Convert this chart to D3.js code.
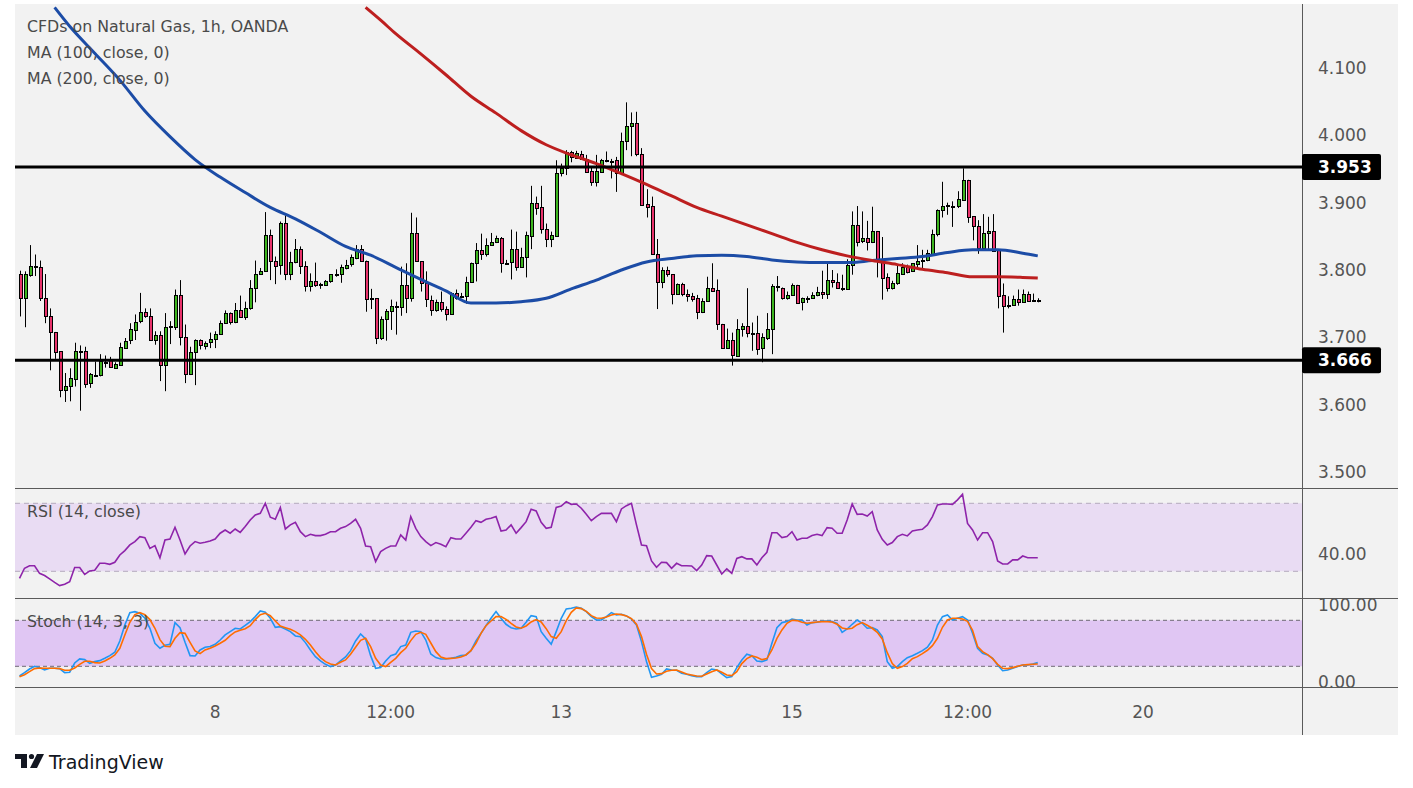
<!DOCTYPE html>
<html>
<head>
<meta charset="utf-8">
<script src="https://cdn.jsdelivr.net/npm/d3@7/dist/d3.min.js"></script>
<style>
body { margin: 0; background: #fff; }
text { font-family: "DejaVu Sans", sans-serif; }
</style>
</head>
<body>
<svg id="chart" width="1413" height="788"></svg>
<script>
// hourly candles
var opens = [3.794,3.759,3.793,3.804,3.804,3.758,3.732,3.708,3.679,3.621,3.627,3.639,3.680,3.680,3.631,3.643,3.644,3.663,3.666,3.655,
  3.660,3.685,3.695,3.711,3.723,3.737,3.732,3.696,3.703,3.659,3.716,3.716,3.763,3.700,3.645,3.678,3.696,3.688,3.692,3.697,
  3.705,3.721,3.736,3.723,3.741,3.730,3.743,3.773,3.794,3.799,3.852,3.814,3.807,3.870,3.794,3.812,3.831,3.806,3.777,3.784,
  3.778,3.778,3.784,3.793,3.794,3.804,3.808,3.818,3.831,3.814,3.758,3.758,3.699,3.727,3.739,3.747,3.745,3.777,3.758,3.855,
  3.813,3.780,3.756,3.741,3.753,3.742,3.735,3.766,3.761,3.761,3.782,3.810,3.830,3.824,3.837,3.841,3.847,3.811,3.811,3.831,
  3.805,3.819,3.851,3.900,3.893,3.861,3.846,3.851,3.944,3.951,3.975,3.967,3.973,3.965,3.947,3.931,3.946,3.962,3.962,3.964,
  3.945,3.992,4.014,4.019,3.973,3.898,3.895,3.824,3.782,3.800,3.794,3.764,3.779,3.764,3.762,3.758,3.737,3.753,3.774,3.771,
  3.720,3.684,3.696,3.673,3.712,3.717,3.707,3.707,3.683,3.700,3.712,3.775,3.773,3.758,3.763,3.778,3.752,3.758,3.758,3.763,
  3.767,3.764,3.785,3.782,3.773,3.773,3.808,3.867,3.842,3.847,3.841,3.858,3.814,3.789,3.772,3.780,3.795,3.805,3.798,3.810,
  3.814,3.814,3.825,3.854,3.889,3.895,3.895,3.895,3.905,3.934,3.880,3.866,3.833,3.855,3.858,3.830,3.763,3.748,3.748,3.757,
  3.753,3.765,3.756,3.756];
var highs = [3.799,3.798,3.837,3.823,3.814,3.794,3.743,3.708,3.679,3.647,3.654,3.692,3.688,3.686,3.647,3.664,3.675,3.673,3.671,3.663,
  3.692,3.699,3.721,3.734,3.766,3.743,3.743,3.709,3.709,3.736,3.724,3.771,3.785,3.719,3.686,3.697,3.697,3.694,3.707,3.709,
  3.725,3.740,3.737,3.751,3.762,3.753,3.785,3.814,3.803,3.886,3.860,3.820,3.872,3.881,3.827,3.846,3.835,3.813,3.795,3.811,
  3.781,3.785,3.794,3.801,3.808,3.815,3.823,3.837,3.837,3.814,3.772,3.758,3.731,3.742,3.756,3.753,3.805,3.810,3.885,3.878,
  3.813,3.798,3.762,3.756,3.768,3.746,3.767,3.771,3.766,3.790,3.811,3.840,3.854,3.847,3.855,3.851,3.849,3.815,3.860,3.857,
  3.833,3.857,3.925,3.909,3.925,3.869,3.857,3.963,3.958,3.978,3.977,3.977,3.977,3.971,3.954,3.971,3.965,3.976,3.965,3.968,
  4.004,4.049,4.034,4.035,3.981,3.920,3.909,3.846,3.804,3.805,3.794,3.780,3.781,3.771,3.766,3.763,3.758,3.790,3.810,3.786,
  3.720,3.713,3.707,3.727,3.721,3.773,3.722,3.732,3.706,3.736,3.779,3.791,3.774,3.768,3.780,3.778,3.759,3.761,3.767,3.775,
  3.799,3.810,3.800,3.795,3.793,3.816,3.887,3.895,3.887,3.873,3.894,3.858,3.849,3.795,3.784,3.808,3.810,3.808,3.810,3.837,
  3.830,3.830,3.860,3.890,3.931,3.900,3.902,3.917,3.951,3.934,3.880,3.874,3.883,3.879,3.883,3.831,3.780,3.761,3.762,3.771,
  3.771,3.768,3.765,3.758];
var lows = [3.731,3.715,3.790,3.791,3.754,3.721,3.651,3.668,3.611,3.604,3.605,3.627,3.591,3.625,3.625,3.643,3.642,3.655,3.655,3.653,
  3.659,3.683,3.690,3.696,3.721,3.729,3.696,3.689,3.635,3.620,3.690,3.711,3.688,3.632,3.644,3.629,3.682,3.682,3.684,3.684,
  3.704,3.720,3.719,3.721,3.730,3.726,3.741,3.752,3.793,3.798,3.785,3.779,3.793,3.785,3.785,3.810,3.794,3.768,3.768,3.775,
  3.772,3.777,3.781,3.790,3.781,3.801,3.805,3.816,3.812,3.738,3.742,3.690,3.696,3.695,3.711,3.704,3.732,3.736,3.753,3.813,
  3.768,3.745,3.732,3.738,3.738,3.725,3.734,3.756,3.758,3.750,3.781,3.783,3.815,3.820,3.836,3.840,3.796,3.808,3.786,3.799,
  3.804,3.789,3.831,3.882,3.854,3.834,3.834,3.851,3.939,3.941,3.960,3.966,3.964,3.945,3.925,3.924,3.945,3.960,3.936,3.916,
  3.941,3.978,3.969,3.969,3.897,3.878,3.824,3.742,3.773,3.790,3.749,3.763,3.761,3.753,3.753,3.727,3.736,3.753,3.769,3.711,
  3.683,3.683,3.658,3.673,3.701,3.700,3.680,3.674,3.663,3.696,3.675,3.768,3.756,3.756,3.762,3.751,3.740,3.751,3.757,3.761,
  3.757,3.757,3.774,3.772,3.769,3.773,3.793,3.835,3.840,3.829,3.840,3.789,3.756,3.768,3.771,3.778,3.794,3.795,3.797,3.800,
  3.800,3.813,3.823,3.850,3.878,3.882,3.864,3.892,3.904,3.870,3.844,3.824,3.830,3.830,3.829,3.743,3.707,3.743,3.747,3.747,
  3.752,3.755,3.753,3.752];
var closes = [3.759,3.794,3.806,3.806,3.758,3.732,3.708,3.678,3.621,3.627,3.639,3.680,3.679,3.631,3.645,3.644,3.665,3.664,3.656,3.661,
  3.686,3.695,3.712,3.723,3.737,3.731,3.696,3.703,3.659,3.716,3.717,3.763,3.700,3.645,3.678,3.696,3.688,3.692,3.697,3.705,
  3.722,3.736,3.723,3.741,3.730,3.743,3.773,3.794,3.799,3.852,3.813,3.807,3.870,3.794,3.812,3.831,3.806,3.777,3.784,3.778,
  3.779,3.784,3.794,3.794,3.804,3.808,3.819,3.831,3.813,3.758,3.757,3.699,3.727,3.739,3.747,3.745,3.777,3.758,3.855,3.813,
  3.780,3.756,3.741,3.753,3.742,3.735,3.766,3.759,3.760,3.782,3.810,3.830,3.824,3.837,3.841,3.847,3.810,3.810,3.831,3.805,
  3.820,3.852,3.900,3.893,3.860,3.846,3.852,3.944,3.951,3.975,3.967,3.974,3.965,3.946,3.931,3.947,3.964,3.963,3.962,3.945,
  3.992,4.014,4.019,3.973,3.897,3.894,3.824,3.782,3.800,3.794,3.764,3.779,3.764,3.761,3.758,3.737,3.754,3.773,3.770,3.720,
  3.684,3.696,3.673,3.713,3.717,3.706,3.706,3.683,3.700,3.713,3.776,3.776,3.758,3.763,3.778,3.752,3.758,3.758,3.763,3.767,
  3.764,3.785,3.782,3.773,3.773,3.808,3.867,3.842,3.847,3.841,3.858,3.814,3.789,3.772,3.780,3.795,3.805,3.798,3.810,3.814,
  3.815,3.825,3.854,3.889,3.895,3.896,3.895,3.905,3.934,3.879,3.865,3.833,3.855,3.858,3.829,3.762,3.747,3.748,3.757,3.753,
  3.765,3.755,3.756,3.755];

// moving averages, sampled at candle indices
var ma100Idx = [7,10,15,20,25,30,35,40,45,50,55,60,65,70,75,80,85,90,95,100,105,110,115,120,125,130,135,140,145,150,155,160,165,170,175,180,185,190,195,200,203];
var ma100Val = [4.190,4.162,4.122,4.082,4.036,3.998,3.964,3.938,3.915,3.893,3.876,3.856,3.835,3.822,3.804,3.786,3.769,3.751,3.751,3.753,3.758,3.772,3.785,3.800,3.812,3.817,3.821,3.822,3.820,3.815,3.812,3.811,3.811,3.814,3.817,3.820,3.826,3.830,3.830,3.825,3.821];
var ma200Idx = [69,72,75,80,85,90,95,100,105,110,115,120,125,130,135,140,145,150,155,160,165,170,175,180,185,190,195,200,203];
var ma200Val = [4.190,4.171,4.151,4.121,4.090,4.058,4.033,4.007,3.986,3.971,3.958,3.943,3.927,3.910,3.893,3.880,3.867,3.854,3.841,3.830,3.821,3.814,3.808,3.801,3.796,3.790,3.790,3.789,3.788];

var levels = [3.953, 3.666];

var rsi = [25.9,31.8,33.3,33.3,28.8,27.5,25.5,23.5,21.6,22.4,23.9,32.2,32.2,28.2,30.2,30.6,34.7,34.7,34.1,35.3,
  39.6,42.2,45.5,47.5,50.4,49.8,43.5,45.1,38.0,48.4,49.0,55.9,48.4,40.2,44.9,47.5,46.5,47.1,47.8,49.0,
  52.4,54.3,52.4,54.9,52.9,56.3,60.2,63.1,64.1,70.0,61.8,60.6,67.5,54.9,57.3,58.8,53.3,50.4,51.8,51.0,
  51.0,51.8,53.3,53.3,55.3,56.3,58.2,60.6,55.3,44.9,44.5,35.7,41.6,43.5,44.9,44.9,51.4,48.4,62.2,55.3,
  50.4,47.5,45.1,46.9,45.9,44.5,49.8,49.0,49.0,52.4,55.9,59.8,58.8,60.6,61.2,62.2,53.7,54.3,57.3,52.4,
  55.7,59.2,66.5,65.5,58.8,55.3,55.9,67.6,68.4,71.0,69.4,69.6,67.1,63.5,59.8,62.2,64.1,64.1,64.1,59.2,
  66.7,68.6,70.0,57.3,45.5,45.1,36.1,32.4,35.3,35.1,31.8,34.7,33.3,33.3,33.1,30.4,33.7,39.2,39.0,33.7,
  28.4,31.4,28.8,37.6,38.6,37.3,37.3,33.7,38.0,41.2,52.7,52.7,49.8,50.4,53.3,48.4,49.4,49.4,51.0,51.8,
  51.0,55.7,55.3,52.4,52.4,60.2,69.6,63.5,63.7,62.5,65.1,54.3,48.8,45.5,46.9,50.4,51.8,50.8,53.7,54.3,
  54.7,57.3,62.2,69.0,69.6,69.6,69.4,72.0,75.3,58.2,54.3,48.4,52.7,52.7,47.5,36.1,34.3,34.3,36.7,36.7,
  39.0,38.0,38.0,38.0];

var stochK = [7.4,11.7,16.5,20.0,18.3,15.2,17.4,17.4,17.0,11.7,12.2,24.3,29.6,28.7,23.9,26.1,27.4,30.4,33.9,38.3,
  53.0,73.9,90.0,91.3,89.1,82.6,69.6,50.0,43.5,47.4,48.7,77.0,70.4,51.3,33.9,33.5,41.3,44.8,45.7,48.7,
  54.3,60.9,65.2,69.6,68.7,73.5,78.3,84.8,92.2,90.4,82.6,70.9,71.7,68.7,65.2,59.6,58.7,50.9,41.3,32.6,
  27.0,22.6,19.6,21.7,27.0,32.2,40.4,53.0,62.2,55.7,33.9,17.4,18.3,27.0,33.9,36.1,45.7,47.8,64.3,66.1,
  65.2,54.3,36.1,31.3,29.6,29.6,30.4,31.7,33.9,34.8,40.4,53.0,63.0,73.0,82.6,91.3,82.6,74.8,70.4,68.7,
  69.6,77.4,86.1,84.8,65.2,56.5,48.7,65.2,82.6,94.8,95.7,97.4,95.7,91.3,84.8,80.4,80.4,84.8,90.0,87.0,
  87.8,85.7,81.7,73.9,52.2,26.1,5.7,7.4,9.6,16.5,15.2,14.8,10.9,9.6,7.8,6.5,6.5,11.7,16.5,15.2,
  10.0,5.2,6.5,18.3,28.3,35.7,33.9,27.0,26.1,28.3,50.0,70.4,77.0,78.3,81.7,80.4,80.4,73.9,77.0,77.4,
  79.1,79.1,78.3,76.1,64.3,68.7,74.8,80.4,76.1,69.6,70.4,67.4,58.7,26.1,17.4,19.6,26.1,31.3,33.9,37.0,
  40.4,44.8,54.3,73.9,84.8,87.0,80.4,82.6,84.8,80.4,63.0,43.5,37.0,34.8,30.4,21.7,14.3,15.2,17.4,19.6,
  21.7,21.7,23.0,24.8];
var stochD = [6.5,9.1,13.0,17.0,17.8,17.4,17.4,17.4,17.0,14.8,14.8,17.8,22.6,26.5,26.5,24.8,24.3,27.0,30.4,34.8,
  43.5,60.9,77.4,87.4,90.0,87.4,80.9,69.6,54.8,46.1,45.7,56.5,63.9,63.0,51.3,40.0,36.5,41.3,43.5,46.5,
  50.0,53.9,60.0,64.8,67.0,69.1,73.0,80.9,87.4,89.1,86.1,79.1,72.6,70.4,68.3,65.2,60.9,55.2,47.8,39.1,
  31.3,26.1,23.0,21.7,25.2,28.3,35.7,44.8,53.9,56.5,45.7,30.4,21.7,19.6,25.2,30.4,37.8,43.5,53.5,61.7,
  64.3,61.7,50.4,39.1,32.2,30.0,30.4,30.9,32.2,34.8,40.4,50.0,63.0,73.0,79.1,84.8,84.8,81.3,76.1,71.3,
  69.6,72.6,77.8,80.9,77.8,69.1,58.7,56.5,65.2,79.6,90.4,96.1,95.2,91.7,86.1,83.0,82.6,84.3,87.0,88.3,
  87.4,85.7,82.2,74.8,58.7,35.7,17.0,10.0,10.4,13.5,14.8,15.2,12.6,10.0,8.7,7.4,7.0,10.0,13.0,15.2,
  12.2,8.7,7.8,13.0,23.5,30.0,33.5,31.7,28.7,30.0,41.3,56.5,67.4,76.1,80.0,79.6,77.4,76.1,77.0,77.8,
  78.3,78.3,77.8,74.8,70.0,68.7,69.6,74.3,77.0,73.5,69.6,64.3,55.7,37.8,23.5,17.4,19.6,23.9,30.0,32.6,
  36.5,40.9,47.0,56.5,70.9,80.4,82.6,82.6,81.7,78.7,67.0,45.7,39.1,35.2,30.0,22.6,17.4,17.0,18.3,20.0,
  21.7,22.2,22.6,23.0];

var priceTicks = [3.5, 3.6, 3.7, 3.8, 3.9, 4.0, 4.1];
var timeTickIdx = [39, 74, 108, 154, 189, 224];
var timeTickLabels = ["8", "12:00", "13", "15", "12:00", "20"];

var legendLines = ["CFDs on Natural Gas, 1h, OANDA", "MA (100, close, 0)", "MA (200, close, 0)"];

// layout
var leftX = 15, rightX = 1398, axisX = 1302, topY = 4, bottomY = 735;
var mainBottom = 488, rsiBottom = 598, stochBottom = 687;
var upColor = "#3db51f", downColor = "#e8336b";

var svg = d3.select("#chart");

var x = d3.scaleLinear().domain([0, 224]).range([19.5, 1143.1]);
var y = d3.scaleLinear().domain([3.5, 4.1]).range([472, 68]);
var yRsi = d3.scaleLinear().domain([30, 70]).range([571.3, 503.3]);
var yStoch = d3.scaleLinear().domain([20, 80]).range([666.3, 620.3]);

svg.append("rect").attr("x", leftX).attr("y", topY)
    .attr("width", rightX - leftX).attr("height", bottomY - topY)
    .attr("fill", "#f2f2f2");

var defs = svg.append("defs");
function clip(id, y0, y1) {
    defs.append("clipPath").attr("id", id).append("rect")
        .attr("x", leftX).attr("y", y0).attr("width", axisX - leftX).attr("height", y1 - y0);
}
clip("clipMain", topY, mainBottom);
clip("clipRsi", mainBottom, rsiBottom);
clip("clipStoch", rsiBottom, stochBottom);

// ---- main pane
var main = svg.append("g").attr("clip-path", "url(#clipMain)");

var candles = main.selectAll("g.candle")
    .data(d3.range(closes.length))
    .enter()
    .append("g")
    .attr("class", "candle");

candles.append("line")
    .attr("x1", function(i){ return Math.round(x(i)) + 0.5; })
    .attr("x2", function(i){ return Math.round(x(i)) + 0.5; })
    .attr("y1", function(i){ return y(highs[i]); })
    .attr("y2", function(i){ return y(lows[i]); })
    .attr("stroke", "#000").attr("stroke-width", 1);

candles.append("rect")
    .attr("x", function(i){ return Math.round(x(i)) - 1; })
    .attr("width", 3)
    .attr("y", function(i){ return Math.round(y(Math.max(opens[i], closes[i]))) + 0.5; })
    .attr("height", function(i){ return Math.max(1, Math.round(Math.abs(y(opens[i]) - y(closes[i])))); })
    .attr("fill", function(i){ return closes[i] >= opens[i] ? upColor : downColor; })
    .attr("stroke", "#000").attr("stroke-width", 1)
    .attr("shape-rendering", "crispEdges");

var maLine = d3.line()
    .x(function(d){ return x(d[0]); })
    .y(function(d){ return y(d[1]); })
    .curve(d3.curveMonotoneX);

main.append("path")
    .datum(d3.zip(ma100Idx, ma100Val))
    .attr("d", maLine)
    .attr("fill", "none").attr("stroke", "#1c4ca6").attr("stroke-width", 3);
main.append("path")
    .datum(d3.zip(ma200Idx, ma200Val))
    .attr("d", maLine)
    .attr("fill", "none").attr("stroke", "#bd1f1f").attr("stroke-width", 3);

svg.selectAll("line.level")
    .data(levels)
    .enter()
    .append("line")
    .attr("class", "level")
    .attr("x1", leftX).attr("x2", axisX)
    .attr("y1", function(d){ return y(d); })
    .attr("y2", function(d){ return y(d); })
    .attr("stroke", "#000").attr("stroke-width", 3);

svg.selectAll("text.legend")
    .data(legendLines)
    .enter()
    .append("text")
    .attr("class", "legend")
    .attr("x", 27)
    .attr("y", function(d, i){ return 32 + i * 26; })
    .attr("font-size", 15.8)
    .attr("fill", "#4a4a4a")
    .text(function(d){ return d; });

// ---- RSI pane
var rsiG = svg.append("g").attr("clip-path", "url(#clipRsi)");
rsiG.append("rect")
    .attr("x", leftX).attr("width", axisX - leftX)
    .attr("y", yRsi(70)).attr("height", yRsi(30) - yRsi(70))
    .attr("fill", "#e9dcf3");
rsiG.selectAll("line.band")
    .data([70, 30])
    .enter()
    .append("line")
    .attr("x1", leftX).attr("x2", axisX)
    .attr("y1", function(d){ return yRsi(d); })
    .attr("y2", function(d){ return yRsi(d); })
    .attr("stroke", "#b4abbd").attr("stroke-dasharray", "5,4");
rsiG.append("path")
    .datum(rsi)
    .attr("d", d3.line().x(function(d, i){ return x(i); }).y(function(d){ return yRsi(d); }))
    .attr("fill", "none").attr("stroke", "#8e24aa").attr("stroke-width", 1.6);
svg.append("text").attr("x", 27).attr("y", 517)
    .attr("font-size", 15.8).attr("fill", "#4a4a4a").text("RSI (14, close)");

// ---- Stoch pane
var stG = svg.append("g").attr("clip-path", "url(#clipStoch)");
stG.append("rect")
    .attr("x", leftX).attr("width", axisX - leftX)
    .attr("y", yStoch(80)).attr("height", yStoch(20) - yStoch(80))
    .attr("fill", "#e0c6f3");
stG.selectAll("line.band")
    .data([80, 20])
    .enter()
    .append("line")
    .attr("x1", leftX).attr("x2", axisX)
    .attr("y1", function(d){ return yStoch(d); })
    .attr("y2", function(d){ return yStoch(d); })
    .attr("stroke", "#6f6a75").attr("stroke-dasharray", "4,3");
var stLine = d3.line().x(function(d, i){ return x(i); }).y(function(d){ return yStoch(d); });
stG.append("path").datum(stochK).attr("d", stLine)
    .attr("fill", "none").attr("stroke", "#2196f3").attr("stroke-width", 1.6);
stG.append("path").datum(stochD).attr("d", stLine)
    .attr("fill", "none").attr("stroke", "#ff6d00").attr("stroke-width", 1.6);
svg.append("text").attr("x", 27).attr("y", 627)
    .attr("font-size", 15.8).attr("fill", "#4a4a4a").text("Stoch (14, 3, 3)");

// ---- separators
[mainBottom, rsiBottom, stochBottom].forEach(function(v){
    svg.append("line").attr("x1", leftX).attr("x2", rightX)
        .attr("y1", v + 0.5).attr("y2", v + 0.5)
        .attr("stroke", "#5a5a5a").attr("stroke-width", 1);
});
svg.append("line").attr("x1", axisX + 0.5).attr("x2", axisX + 0.5)
    .attr("y1", topY).attr("y2", bottomY)
    .attr("stroke", "#5a5a5a").attr("stroke-width", 1);

// ---- price axis
svg.selectAll("text.ptick")
    .data(priceTicks)
    .enter()
    .append("text")
    .attr("class", "ptick")
    .attr("x", 1318)
    .attr("y", function(d){ return y(d) + 6; })
    .attr("font-size", 17)
    .attr("fill", "#555")
    .text(function(d){ return d3.format(".3f")(d); });

var badges = svg.selectAll("g.badge")
    .data(levels)
    .enter()
    .append("g")
    .attr("class", "badge");
badges.append("rect")
    .attr("x", axisX).attr("width", 79)
    .attr("y", function(d){ return y(d) - 13; })
    .attr("height", 26).attr("rx", 2)
    .attr("fill", "#000");
badges.append("text")
    .attr("x", 1318)
    .attr("y", function(d){ return y(d) + 6; })
    .attr("font-size", 17).attr("font-weight", "bold")
    .attr("fill", "#fff")
    .text(function(d){ return d3.format(".3f")(d); });

svg.append("text").attr("x", 1318).attr("y", yRsi(40) + 6)
    .attr("font-size", 17).attr("fill", "#555").text("40.00");
svg.append("text").attr("x", 1318).attr("y", yStoch(100) + 6)
    .attr("font-size", 17).attr("fill", "#555").text("100.00");
svg.append("text").attr("x", 1318).attr("y", yStoch(0) + 6)
    .attr("font-size", 17).attr("fill", "#555").text("0.00");

// ---- time axis
svg.selectAll("text.ttick")
    .data(timeTickIdx)
    .enter()
    .append("text")
    .attr("class", "ttick")
    .attr("x", function(d){ return x(d); })
    .attr("y", 718)
    .attr("text-anchor", "middle")
    .attr("font-size", 17)
    .attr("fill", "#555")
    .text(function(d, i){ return timeTickLabels[i]; });

// ---- logo
var logo = svg.append("g").attr("fill", "#131722");
logo.append("rect").attr("x", 15).attr("y", 754).attr("width", 12).attr("height", 5);
logo.append("rect").attr("x", 21).attr("y", 754).attr("width", 6).attr("height", 14);
logo.append("circle").attr("cx", 31.5).attr("cy", 756.5).attr("r", 2.6);
logo.append("path").attr("d", "M37,754 L44,754 L37,768 L30,768 Z");
svg.append("text").attr("x", 49).attr("y", 769)
    .attr("font-size", 19).attr("fill", "#131722").text("TradingView");
</script>
</body>
</html>
